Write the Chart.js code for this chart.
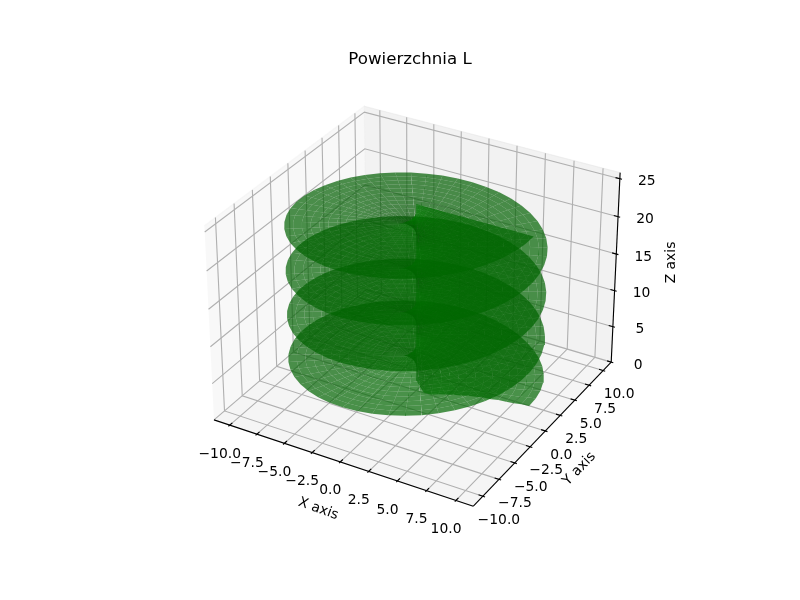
<!DOCTYPE html>
<html><head><meta charset="utf-8">
<style>html,body{margin:0;padding:0;background:#fff}canvas{display:block}</style>
<script src="https://cdn.jsdelivr.net/npm/chart.js@4/dist/chart.umd.min.js"></script>
</head><body><canvas id="c" width="800" height="600"></canvas>
<script>
const chartTitle = "Powierzchnia L";
const xAxisLabel = "X axis", yAxisLabel = "Y axis", zAxisLabel = "Z axis";
const xTicks = [-10,-7.5,-5,-2.5,0,2.5,5,7.5,10];
const yTicks = [-10,-7.5,-5,-2.5,0,2.5,5,7.5,10];
const zTicks = [0,5,10,15,20,25];
const xTickLabels = ["\u221210.0","\u22127.5","\u22125.0","\u22122.5","0.0","2.5","5.0","7.5","10.0"];
const yTickLabels = ["\u221210.0","\u22127.5","\u22125.0","\u22122.5","0.0","2.5","5.0","7.5","10.0"];
const zTickLabels = ["0","5","10","15","20","25"];
const xLimits = [-11,11], yLimits = [-11,11], zLimits = [0.516,25.284];
const surfaceRadii = [0,0.667,1.333,2,2.667,3.333,4,4.667,5.333,6,6.667,7.333,8,8.667,9.333,10];
const turnAnglesDeg = [0,7.2,14.4,21.6,28.8,36,43.2,50.4,57.6,64.8,72,79.2,86.4,93.6,100.8,108,115.2,122.4,129.6,136.8,144,151.2,158.4,165.6,172.8,180,187.2,194.4,201.6,208.8,216,223.2,230.4,237.6,244.8,252,259.2,266.4,273.6,280.8,288,295.2,302.4,309.6,316.8,324,331.2,338.4,345.6,352.8];
const turnHeights = [0,.118,.237,.355,.474,.592,.710,.829,.947,1.066,1.184,1.302,1.421,1.539,1.658,1.776,1.894,2.013,2.131,2.250,2.368,2.486,2.605,2.723,2.842,2.960,3.078,3.197,3.315,3.434,3.552,3.670,3.789,3.907,4.026,4.144,4.262,4.381,4.499,4.618,4.736,4.854,4.973,5.091,5.210,5.328,5.446,5.565,5.683,5.802];
const turnBases = [1.43,7.35,13.27,19.19,25.11];
// the lowest edge of the sheet does not run straight: height offset read per radius, fading over the first samples
const startEdgeOffset = [0,-1.4,-1.4,-1.0,-0.7,-0.4,-0.2,0.1,0.3,0.5,0.6,0.8,0.9,1.0,1.2,1.3];
const startEdgeFade = [1,.85,.7,.55,.4,.28,.17,.08];

// view camera of the 3D box
const rad = d => d*Math.PI/180;
const ELEV = rad(30.7), AZIM = rad(-60), DIST = 10;
const boxK = 1.8294640721620434/Math.hypot(4,4,3);
const box = [4*boxK,4*boxK,3*boxK];
const dot=(a,b)=>a[0]*b[0]+a[1]*b[1]+a[2]*b[2];
const cross=(a,b)=>[a[1]*b[2]-a[2]*b[1],a[2]*b[0]-a[0]*b[2],a[0]*b[1]-a[1]*b[0]];
const norm=a=>{const l=Math.hypot(...a);return a.map(v=>v/l)};
const W=[Math.cos(ELEV)*Math.cos(AZIM),Math.cos(ELEV)*Math.sin(AZIM),Math.sin(ELEV)];
const EYE=[0,1,2].map(i=>box[i]/2+DIST*W[i]);
const U=norm(cross([0,0,1],W)), VV=cross(W,U);
function view(p){
  const q=[(p[0]-xLimits[0])/(xLimits[1]-xLimits[0])*box[0]-EYE[0],
           (p[1]-yLimits[0])/(yLimits[1]-yLimits[0])*box[1]-EYE[1],
           (p[2]-zLimits[0])/(zLimits[1]-zLimits[0])*box[2]-EYE[2]];
  return [dot(U,q),dot(VV,q),dot(W,q)];
}
function proj(p){const v=view(p);return {x:v[0]/-v[2],y:v[1]/-v[2]};}

// box extents: limits widened by 1/48 of their span
const pad=l=>(l[1]-l[0])/48;
const xA=xLimits[0]-pad(xLimits), xB=xLimits[1]+pad(xLimits);
const yA=yLimits[0]-pad(yLimits), yB=yLimits[1]+pad(yLimits);
const zA=zLimits[0]-pad(zLimits), zB=zLimits[1]+pad(zLimits);

const paint=[];
function shape(pts,color,edge){
  paint.push({type:'scatter',showLine:true,data:pts.map(proj),fill:'shape',backgroundColor:color,
    borderColor:edge||'rgba(0,0,0,0)',borderWidth:edge?1.1:0,pointRadius:0,pointHitRadius:0,tension:0});
}
function line(pts,color,width){
  paint.push({type:'scatter',showLine:true,data:pts.map(proj),fill:false,borderColor:color,
    borderWidth:width,pointRadius:0,pointHitRadius:0,tension:0,borderCapStyle:'butt'});
}
// panes
shape([[xA,yA,zA],[xA,yB,zA],[xA,yB,zB],[xA,yA,zB]],'rgba(242,242,242,0.5)','rgba(242,242,242,0.5)');
shape([[xA,yB,zA],[xB,yB,zA],[xB,yB,zB],[xA,yB,zB]],'rgba(230,230,230,0.5)','rgba(230,230,230,0.5)');
shape([[xA,yA,zA],[xB,yA,zA],[xB,yB,zA],[xA,yB,zA]],'rgba(236,236,236,0.5)','rgba(236,236,236,0.5)');
// grid
const GRID='#b0b0b0';
xTicks.forEach(t=>line([[t,yA,zA],[t,yB,zA],[t,yB,zB]],GRID,1.11));
yTicks.forEach(t=>line([[xB,t,zA],[xA,t,zA],[xA,t,zB]],GRID,1.11));
zTicks.forEach(t=>line([[xA,yA,t],[xA,yB,t],[xB,yB,t]],GRID,1.11));
// axis lines and tick marks
line([[xA,yA,zA],[xB,yA,zA]],'#000',1.11);
line([[xB,yA,zA],[xB,yB,zA]],'#000',1.11);
line([[xB,yB,zA],[xB,yB,zB]],'#000',1.11);
const dX=(xLimits[1]-xLimits[0])/12, dY=(yLimits[1]-yLimits[0])/12;
xTicks.forEach(t=>line([[t,yA+0.2*dY,zA],[t,yA-0.1*dY,zA]],'#000',1.11));
yTicks.forEach(t=>line([[xB-0.2*dX,t,zA],[xB+0.1*dX,t,zA]],'#000',1.11));
zTicks.forEach(t=>line([[xB-0.2*dX,yB,t],[xB+0.1*dX,yB,t]],'#000',1.11));

// surface
const thetas=[], heights=[];
for(let k=0;k<turnBases.length-1;k++) turnAnglesDeg.forEach((a,i)=>{thetas.push(rad(a));heights.push(turnBases[k]+turnHeights[i]);});
thetas.push(rad(turnAnglesDeg[0])); heights.push(turnBases[turnBases.length-1]);
const LIGHT=[-0.6667,-0.6667,0.3333];
const quads=[];
const P=(j,i)=>[surfaceRadii[j]*Math.cos(thetas[i]),surfaceRadii[j]*Math.sin(thetas[i]),
  heights[i]+(i<startEdgeFade.length?startEdgeOffset[j]*startEdgeFade[i]:0)];
for(let i=0;i<thetas.length-1;i++) for(let j=0;j<surfaceRadii.length-1;j++){
  const pts=[P(j,i),P(j+1,i),P(j+1,i+1),P(j,i+1)];
  const a=pts[2].map((v,n)=>v-pts[0][n]), b=pts[3].map((v,n)=>v-pts[1][n]);
  let n=norm(cross(a,b)); if(n[2]<0) n=n.map(v=>-v);
  const s=dot(n,LIGHT), f=0.3+0.7*(s+1)/2, g=Math.round(128*f);
  const depth=pts.reduce((sum,p)=>sum+view(p)[2],0)/4;
  quads.push({pts,g,depth});
}
quads.sort((a,b)=>a.depth-b.depth);
quads.forEach(q=>shape(q.pts,`rgba(0,${q.g},0,0.7)`));

const FONT='"DejaVu Sans"';
const textPlugin={id:'axisText',afterDraw(chart){
  const c=chart.ctx, sx=chart.scales.x, sy=chart.scales.y;
  const px=p=>{const q=proj(p);return [sx.getPixelForValue(q.x),sy.getPixelForValue(q.y)];};
  c.save(); c.fillStyle='#000'; c.textAlign='center'; c.textBaseline='middle';
  c.font='13.89px '+FONT;
  xTicks.forEach((t,i)=>{const p=px([t,yA,zA]);c.fillText(xTickLabels[i],p[0]-10,p[1]+29);});
  yTicks.forEach((t,i)=>{const p=px([xB,t,zA]);c.fillText(yTickLabels[i],p[0]+16,p[1]+24);});
  zTicks.forEach((t,i)=>{const p=px([xB,yB,t]);c.fillText(zTickLabels[i],p[0]+27,p[1]+3);});
  const rot=(txt,p,ang)=>{c.save();c.translate(p[0],p[1]);c.rotate(rad(ang));c.fillText(txt,0,0);c.restore();};
  const mx=px([(xA+xB)/2,yA,zA]), my=px([xB,(yA+yB)/2,zA]), mz=px([xB,yB,(zA+zB)/2]);
  rot(xAxisLabel,[mx[0]-22,mx[1]+47],20);
  rot(yAxisLabel,[my[0]+34,my[1]+38],-46);
  rot(zAxisLabel,[mz[0]+56,mz[1]-7],-90);
  c.restore();
}};

new Chart(document.getElementById('c'),{
  type:'scatter',
  data:{datasets:paint.slice().reverse()},
  plugins:[textPlugin],
  options:{
    responsive:false,animation:false,devicePixelRatio:1,events:[],
    layout:{padding:{left:179,right:159,top:51.33,bottom:70}},
    scales:{
      x:{type:'linear',display:false,min:-0.095,max:0.09},
      y:{type:'linear',display:false,min:-0.0934,max:0.0916}
    },
    plugins:{
      legend:{display:false},tooltip:{enabled:false},
      filler:{drawTime:'beforeDatasetDraw',propagate:false},
      title:{display:true,text:chartTitle,fullSize:false,color:'#000',padding:0,
        font:{family:FONT,size:16.67,weight:'normal',lineHeight:1}}
    }
  }
});
</script></body></html>
